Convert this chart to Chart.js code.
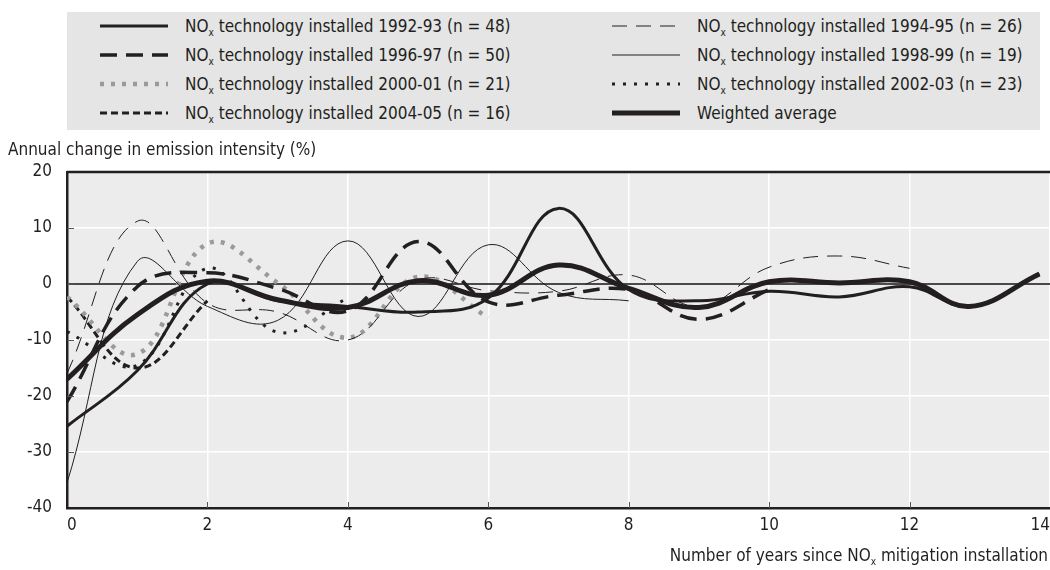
<!DOCTYPE html>
<html lang="en">
<head>
<meta charset="UTF-8">
<title>Annual change in emission intensity after NOx installation</title>
<script src="https://cdn.jsdelivr.net/npm/chart.js"></script>
<style>
    body {
        margin: 0;
        background: #fff;
        font-family: "Liberation Sans Narrow", "DejaVu Sans Condensed", "Arial Narrow", sans-serif;
        color: #231f20;
    }
    #wrap {
        position: relative;
        width: 1050px;
        height: 570px;
        overflow: hidden;
    }
    #chart {
        position: absolute;
        left: 0;
        top: 0;
    }
    #legend {
        position: absolute;
        left: 67px;
        top: 12px;
        width: 973px;
        height: 118px;
        background: #e5e5e5;
    }
    .item {
        position: absolute;
        height: 29px;
        font-size: 17px;
        line-height: 29px;
        white-space: nowrap;
    }
    .item svg {
        position: absolute;
        top: 9px;
    }
    .item span {
        position: absolute;
    }
    sub {
        font-size: 10px;
        vertical-align: -4px;
        line-height: 0;
    }
    .axis-title {
        position: absolute;
        font-size: 17px;
        white-space: nowrap;
    }
</style>
</head>
<body>
<div id="wrap">
    <canvas id="chart" width="1050" height="570"></canvas>
    <div id="legend"></div>
    <div class="axis-title" style="left:8px; top:139px;">Annual change in emission intensity (%)</div>
    <div class="axis-title" style="right:2px; top:545px;">Number of years since NO<sub>x</sub> mitigation installation</div>
</div>

<script>
    // years since installation (the last two observations sit slightly short of a whole year)
    const years = [0, 1, 2, 3, 4, 5, 6, 7, 8, 9, 10, 11, 12, 12.85, 13.85];

    // annual change in emission intensity (%) by installation cohort
    const cohort9293 = [-25.4, -15.5, 0, -3, -4, -5, -2.5, 13.5, -1, -3, -1.3, -2.3, -0.5, -4, 1.8];
    const cohort9495 = [-16, 11.2, -3.4, -5, -10, 0.7, -1.2, -1.3, 1.6, -4, 3, 5, 2.8];
    const cohort9697 = [-21, -0.5, 2, -0.8, -4.8, 7.6, -3.2, -2, -1, -6.3, -1];
    const cohort9899 = [-35.5, 4, -4, -6.5, 7.7, -5.8, 7, -1.5, -3];
    const cohort0001 = [-2.3, -12.5, 7.2, 0.2, -9.6, 1.3, -6];
    const cohort0203 = [-8.5, -14.5, 2.8, -8.6, -2.5];
    const cohort0405 = [-2.3, -15, -3];
    const weightedAvg = [-17, -5.5, 0.5, -2.8, -4.2, 0.6, -2, 3.4, -0.8, -4.2, 0.4, 0.2, 0.4, -4, 1.8];

    const periods = ['1992-93', '1994-95', '1996-97', '1998-99', '2000-01', '2002-03', '2004-05'];
    const counts = [48, 26, 50, 19, 21, 23, 16];

    const yTicks = [-40, -30, -20, -10, 0, 10, 20];
    const xTicks = [0, 2, 4, 6, 8, 10, 12, 14];

    const BLACK = '#231f20';
    const GREY = '#9a9a9a';
    const FONT = '"Liberation Sans Narrow", "DejaVu Sans Condensed", sans-serif';

    function toPoints(values) {
        return values.map((v, i) => ({ x: years[i], y: v }));
    }

    const cohortValues = [cohort9293, cohort9495, cohort9697, cohort9899, cohort0001, cohort0203, cohort0405];
    const cohortStyles = [
        { color: BLACK, width: 3, dash: [] },
        { color: BLACK, width: 1, dash: [15, 9] },
        { color: BLACK, width: 3.5, dash: [17, 9] },
        { color: BLACK, width: 1, dash: [] },
        { color: GREY, width: 4.5, dash: [4, 7] },
        { color: BLACK, width: 3, dash: [3, 8] },
        { color: BLACK, width: 3, dash: [7, 4] }
    ];

    const datasets = cohortValues.map((vals, i) => ({
        label: 'NOx technology installed ' + periods[i] + ' (n = ' + counts[i] + ')',
        legendHtml: 'NO<sub>x</sub> technology installed ' + periods[i] + ' (n = ' + counts[i] + ')',
        data: toPoints(vals),
        borderColor: cohortStyles[i].color,
        borderWidth: cohortStyles[i].width,
        borderDash: cohortStyles[i].dash,
        order: i + 1
    }));
    datasets.push({
        label: 'Weighted average',
        legendHtml: 'Weighted average',
        data: toPoints(weightedAvg),
        borderColor: BLACK,
        borderWidth: 5,
        borderDash: [],
        order: 0
    });

    // plot background, top frame line and small inward ticks
    const frame = {
        id: 'frame',
        beforeDraw(chart) {
            const a = chart.chartArea;
            const c = chart.ctx;
            c.save();
            c.fillStyle = '#ececec';
            c.fillRect(a.left, a.top, chart.width - a.left, a.bottom - a.top);
            c.restore();
        },
        afterDatasetsDraw(chart) {
            const a = chart.chartArea;
            const c = chart.ctx;
            c.save();
            c.strokeStyle = BLACK;
            c.lineWidth = 2.5;
            c.beginPath();
            c.moveTo(a.left, a.top);
            c.lineTo(chart.width, a.top);
            c.stroke();
            c.lineWidth = 1;
            c.strokeStyle = '#555';
            xTicks.slice(1, -1).forEach(t => {
                const px = Math.round(chart.scales.x.getPixelForValue(t)) + 0.5;
                c.beginPath();
                c.moveTo(px, a.bottom);
                c.lineTo(px, a.bottom - 6);
                c.stroke();
            });
            yTicks.slice(1, -1).forEach(t => {
                const py = Math.round(chart.scales.y.getPixelForValue(t)) + 0.5;
                c.beginPath();
                c.moveTo(a.left, py);
                c.lineTo(a.left + 7, py);
                c.stroke();
            });
            c.restore();
        }
    };

    const ctx = document.getElementById('chart').getContext('2d');
    const chart = new Chart(ctx, {
        type: 'line',
        data: { datasets: datasets },
        options: {
            responsive: false,
            animation: false,
            layout: { padding: { top: 172, right: 0, left: 0, bottom: 0 } },
            elements: {
                point: { radius: 0 },
                line: { tension: 0.4, fill: false, borderCapStyle: 'butt' }
            },
            scales: {
                x: {
                    type: 'linear',
                    min: 0,
                    max: 14,
                    afterFit(scale) {
                        scale.height = 62;
                        scale.paddingLeft = 0;
                        scale.paddingRight = 0;
                    },
                    afterBuildTicks(scale) { scale.ticks = xTicks.map(v => ({ value: v })); },
                    grid: { color: '#ffffff', lineWidth: 1.5, drawTicks: false },
                    border: { color: BLACK, width: 2.5 },
                    ticks: {
                        padding: 7,
                        align: 'inner',
                        color: BLACK,
                        font: { family: FONT, size: 17 }
                    }
                },
                y: {
                    min: -40,
                    max: 20,
                    afterFit(scale) {
                        scale.width = 67;
                        scale.paddingTop = 0;
                        scale.paddingBottom = 0;
                    },
                    afterBuildTicks(scale) { scale.ticks = yTicks.map(v => ({ value: v })); },
                    grid: {
                        color: ctx => ctx.tick && ctx.tick.value === 0 ? '#4a4a4a' : '#ffffff',
                        lineWidth: ctx => ctx.tick && ctx.tick.value === 0 ? 2 : 1.5,
                        drawTicks: false
                    },
                    border: { color: BLACK, width: 2.5 },
                    ticks: {
                        padding: 15,
                        color: BLACK,
                        font: { family: FONT, size: 17 }
                    }
                }
            },
            plugins: {
                legend: { display: false },
                tooltip: { enabled: false }
            }
        },
        plugins: [frame]
    });

    // legend in two columns, row by row in dataset order
    const legend = document.getElementById('legend');
    datasets.forEach((ds, i) => {
        const col = i % 2;
        const row = Math.floor(i / 2);
        const item = document.createElement('div');
        item.className = 'item';
        item.style.top = (row * 29) + 'px';
        item.style.left = (col === 0 ? 33 : 545) + 'px';
        const dash = ds.borderDash.length ? ds.borderDash.join(' ') : 'none';
        item.innerHTML =
            '<svg width="68" height="10"><line x1="0" y1="5" x2="68" y2="5" stroke="' + ds.borderColor +
            '" stroke-width="' + ds.borderWidth + '" stroke-dasharray="' + dash + '"/></svg>' +
            '<span style="left:85px">' + ds.legendHtml + '</span>';
        legend.appendChild(item);
    });
</script>
</body>
</html>
